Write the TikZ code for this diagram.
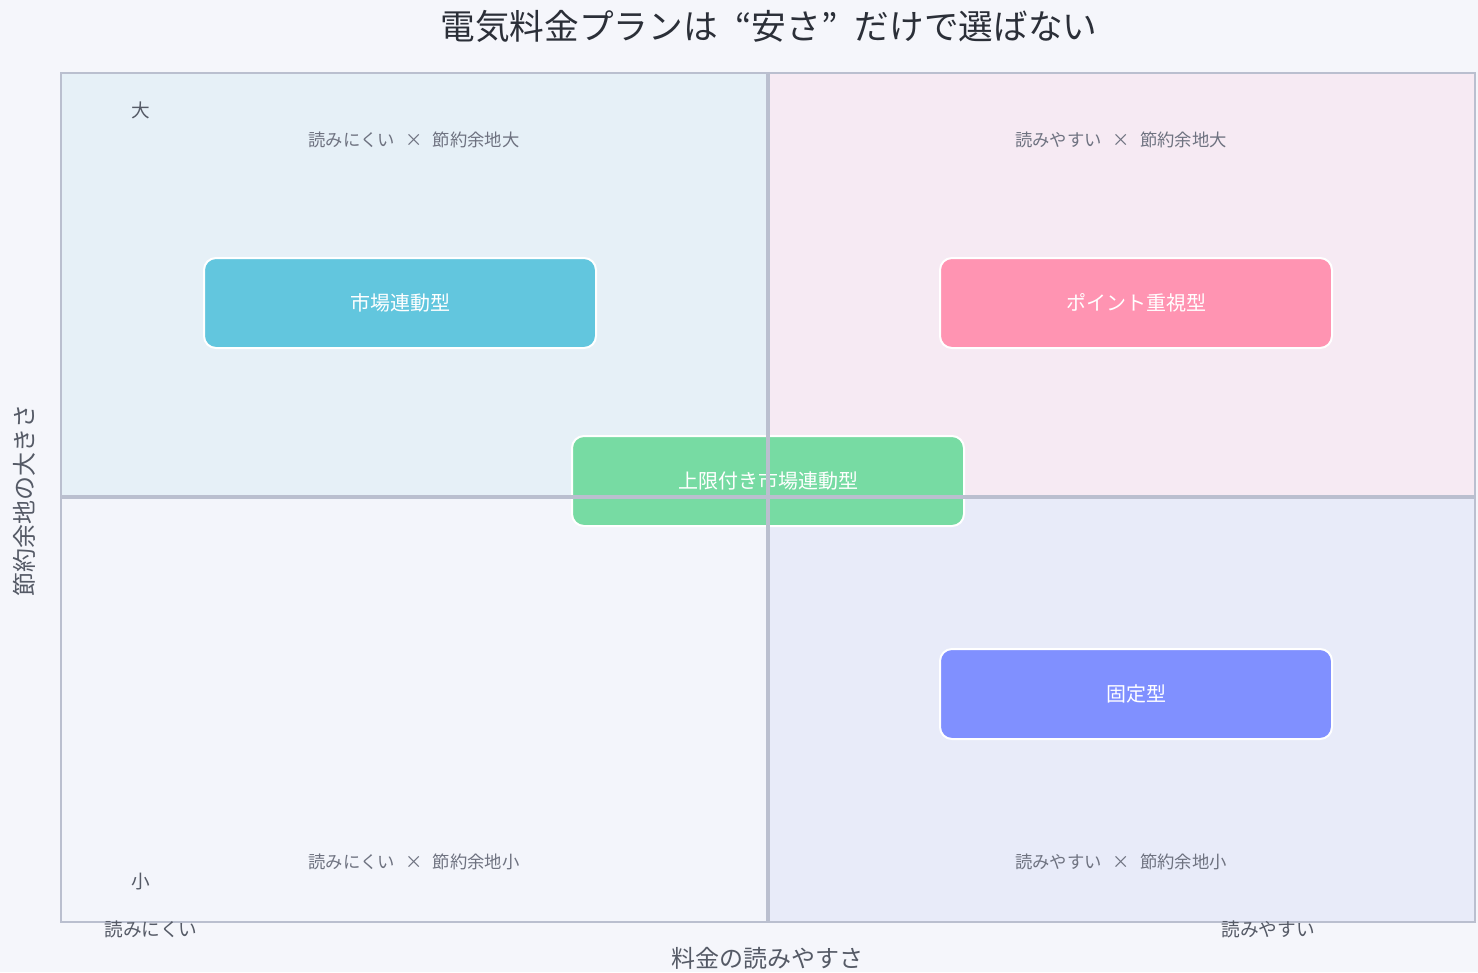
\documentclass[tikz,border=0pt]{standalone}
\usepackage{fontspec}
\setmainfont{Noto Sans CJK JP}
\definecolor{bgc}{HTML}{F5F6FB}
\definecolor{qtl}{HTML}{E6F0F7}
\definecolor{qtr}{HTML}{F6EAF3}
\definecolor{qbl}{HTML}{F3F5FB}
\definecolor{qbr}{HTML}{E8EBF9}
\definecolor{gridc}{HTML}{BABFCF}
\definecolor{lblc}{HTML}{6E7280}
\definecolor{axc}{HTML}{555A66}
\definecolor{ttlc}{HTML}{2B2F38}
\definecolor{cyanc}{HTML}{62C6DE}
\definecolor{pinkc}{HTML}{FF94B2}
\definecolor{greenc}{HTML}{77DBA3}
\definecolor{bluec}{HTML}{8090FF}
\begin{document}
\begin{tikzpicture}[x=0.75pt,y=-0.75pt,line cap=round,
  plan/.style={draw=white,line width=1.5pt,rounded corners=9pt,minimum width=294pt,minimum height=67.5pt,inner sep=0pt,text=white,font=\fontsize{15}{18}\selectfont},
  qlabel/.style={text=lblc,font=\fontsize{13}{15}\selectfont},
  axlabel/.style={text=axc,font=\fontsize{14}{17}\selectfont}]
 \useasboundingbox[fill=bgc] (0,0) rectangle (1478,972);
 % quadrants
 \fill[qtl] (61,73) rectangle (768,497);
 \fill[qtr] (768,73) rectangle (1475,497);
 \fill[qbl] (61,497) rectangle (768,922);
 \fill[qbr] (768,497) rectangle (1475,922);
 \node[qlabel] (ltop) at (414,140) {読みにくい\hspace{0.6em}×\hspace{0.6em}節約余地大};
 \node[qlabel] (rtop) at (1121,140) {読みやすい\hspace{0.6em}×\hspace{0.6em}節約余地大};
 \node[qlabel] (lbot) at (414,862) {読みにくい\hspace{0.6em}×\hspace{0.6em}節約余地小};
 \node[qlabel] (rbot) at (1121,862) {読みやすい\hspace{0.6em}×\hspace{0.6em}節約余地小};
 % plans
 \node[plan,fill=cyanc] (market) at (400,303) {市場連動型};
 \node[plan,fill=pinkc] (point) at (1136,303) {ポイント重視型};
 \node[plan,fill=greenc] (capped) at (768,481) {上限付き市場連動型};
 \node[plan,fill=bluec] (fixed) at (1136,694) {固定型};
 % grid
 \draw[gridc,line width=1.6pt,line cap=butt] (61,73) rectangle (1475,922);
 \draw[gridc,line width=2.4pt,line cap=butt] (768,73)--(768,922) (61,497)--(1475,497);
 % axes
 \node[axlabel] (ybig) at (141,110) {大};
 \node[axlabel] (ysmall) at (141,882) {小};
 \node[axlabel] (xhard) at (151,929) {読みにくい};
 \node[axlabel] (xeasy) at (1268,929) {読みやすい};
 \node[text=axc,font=\fontsize{18}{21}\selectfont] (xtitle) at (767,958) {料金の読みやすさ};
 \node[text=axc,font=\fontsize{18}{21}\selectfont,rotate=90] (ytitle) at (24,500) {節約余地の大きさ};
 \node[text=ttlc,font=\fontsize{26}{30}\selectfont] (title) at (769,26) {電気料金プランは\hspace{0.5em}“安さ”\hspace{0.5em}だけで選ばない};
\end{tikzpicture}
\end{document}
